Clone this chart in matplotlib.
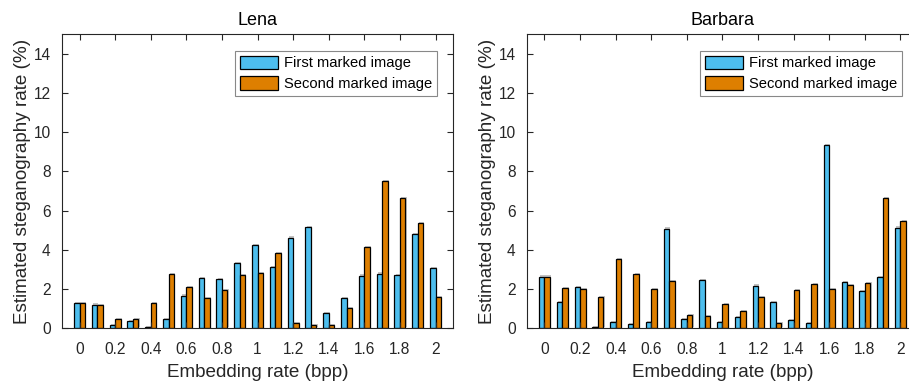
import numpy as np
import matplotlib.pyplot as plt
import matplotlib.patheffects as pe

plt.rcParams['font.family'] = ['Liberation Sans', 'DejaVu Sans']

# Datos
rates = [0.0, 0.1, 0.2, 0.3, 0.4, 0.5, 0.6, 0.7, 0.8, 0.9, 1.0,
         1.1, 1.2, 1.3, 1.4, 1.5, 1.6, 1.7, 1.8, 1.9, 2.0]
lena_first = [1.26, 1.20, 0.15, 0.34, 0.06, 0.44, 1.66, 2.56, 2.48, 3.34, 4.25,
              3.11, 4.62, 5.14, 0.75, 1.53, 2.68, 2.78, 2.70, 4.82, 3.05]
lena_second = [1.26, 1.17, 0.46, 0.46, 1.26, 2.77, 2.10, 1.51, 1.93, 2.72, 2.83,
               3.83, 0.24, 0.15, 0.15, 1.00, 4.14, 7.50, 6.65, 5.38, 1.59]
barbara_first = [2.63, 1.32, 2.10, 0.05, 0.29, 0.19, 0.29, 5.08, 0.44, 2.44, 0.30,
                 0.58, 2.17, 1.34, 0.39, 0.25, 9.33, 2.36, 1.87, 2.60, 5.13]
barbara_second = [2.63, 2.02, 1.98, 1.56, 3.53, 2.75, 2.00, 2.41, 0.66, 0.63, 1.24,
                  0.85, 1.56, 0.25, 1.92, 2.23, 1.97, 2.20, 2.30, 6.65, 5.46]
xticks = [0, 0.2, 0.4, 0.6, 0.8, 1.0, 1.2, 1.4, 1.6, 1.8, 2.0]
xticklabels = ['0', '0.2', '0.4', '0.6', '0.8', '1', '1.2', '1.4', '1.6', '1.8', '2']

blue = '#4DBEEE'
orange = '#DE7F00'
txt = '#262626'
w = 0.031

fig = plt.figure(figsize=(9.09, 3.81), dpi=100)
ax1 = fig.add_axes([0.0679, 0.139, 0.4308, 0.771])
ax2 = fig.add_axes([0.5794, 0.139, 0.4308, 0.771])

shadow = [pe.SimplePatchShadow(offset=(0.8, 0.8), shadow_rgbFace='#888888', alpha=0.5), pe.Normal()]

for ax, title, a, b in [(ax1, 'Lena', lena_first, lena_second),
                        (ax2, 'Barbara', barbara_first, barbara_second)]:
    x = np.array(rates)
    b1 = ax.bar(x - w / 2, a, w, color=blue, edgecolor='black', linewidth=0.9,
                label='First marked image')
    b2 = ax.bar(x + w / 2, b, w, color=orange, edgecolor='black', linewidth=0.9,
                label='Second marked image')
    ax.set_xlim(-0.1, 2.1)
    ax.set_ylim(0, 15)
    ax.set_xticks(xticks)
    ax.set_xticklabels(xticklabels)
    ax.set_yticks(range(0, 15, 2))
    ax.tick_params(direction='in', top=True, right=True, length=4, width=0.8,
                   labelsize=11.2, colors=txt, pad=8)
    ax.tick_params(axis='x', pad=10)
    for s in ax.spines.values():
        s.set_color(txt)
        s.set_linewidth(0.8)
    ax.set_title(title, fontsize=13, color='black', pad=7)
    ax.set_xlabel('Embedding rate (bpp)', fontsize=13.6, color=txt, labelpad=5)
    ax.set_ylabel('Estimated steganography rate (%)', fontsize=13.6, color=txt, labelpad=2)
    leg = ax.legend(loc='upper right', bbox_to_anchor=(1 - 0.0416, 1 - 0.0558),
                    borderaxespad=0, fontsize=10.6, fancybox=False, framealpha=1,
                    edgecolor='#888888', handlelength=2.6, handleheight=1.0,
                    handletextpad=0.35, labelspacing=0.4, borderpad=0.35)
    leg.get_frame().set_linewidth(0.8)
    # sombra ligera como en la figura original (solo en las barras)
    for p in list(b1) + list(b2):
        p.set_path_effects(shadow)

fig.savefig('out.png', dpi=100)
